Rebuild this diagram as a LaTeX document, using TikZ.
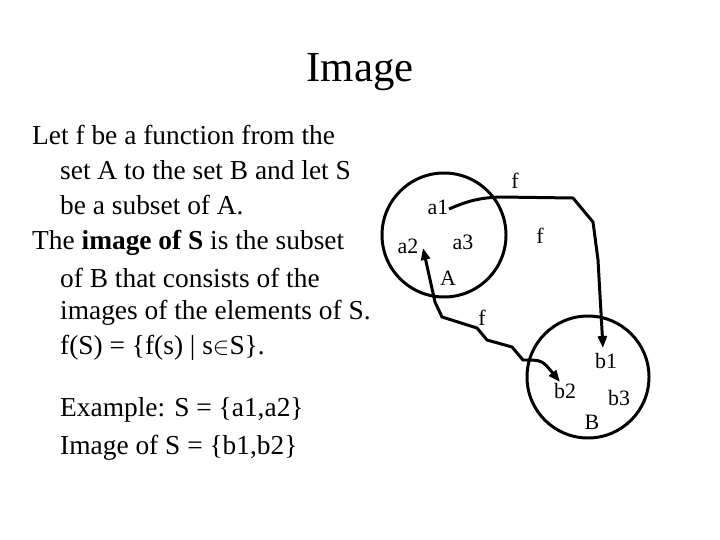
\documentclass[tikz,border=0pt]{standalone}
\usepackage{fontspec}
\setmainfont{Liberation Serif}
\usetikzlibrary{arrows.meta}
\begin{document}
\begin{tikzpicture}[x=1bp,y=-1bp,
  txt/.style={anchor=west,inner sep=0pt,font=\fontsize{27.5}{30}\selectfont},
  lbl/.style={inner sep=0pt,font=\fontsize{22}{26}\selectfont},
  setc/.style={draw,line width=3pt},
  arr/.style={line width=3pt,-{Triangle[length=12pt,width=9pt]}}]
\useasboundingbox (0,0) rectangle (720,540);
\node[inner sep=0pt,font=\fontsize{43}{46}\selectfont] (title) at (360,72) {Image};
\node[txt] (l1) at (32,135) {Let f be a function from the};
\node[txt] (l2) at (60,170) {set A to the set B and let S};
\node[txt] (l3) at (60,205) {be a subset of A.};
\node[txt] (l4) at (32,243) {The \textbf{image of S} is the subset};
\node[txt] (l5) at (60,278) {of B that consists of the};
\node[txt] (l6) at (60,313) {images of the elements of S.};
\node[txt] (l7) at (60,348) {f(S) = \{f(s) | s$\in$S\}.};
\node[txt] (l8) at (60,410) {Example: S = \{a1,a2\}};
\node[txt] (l9) at (60,448) {Image of S = \{b1,b2\}};
\draw[setc] (444,235) circle (62);
\draw[setc] (588,377) circle (61);
\node[lbl] (a1) at (438,207) {a1};
\node[lbl] (a2) at (408,246) {a2};
\node[lbl] (a3) at (463,242) {a3};
\node[lbl] (A) at (448,278) {A};
\node[lbl] (b1) at (606,361) {b1};
\node[lbl] (b2) at (565,391) {b2};
\node[lbl] (b3) at (619,398) {b3};
\node[lbl] (B) at (592,422) {B};
\node[lbl] (f1) at (515,181) {f};
\node[lbl] (f2) at (540,236) {f};
\node[lbl] (f3) at (482,318) {f};
\coordinate (p1) at (449,209);
\coordinate (q1) at (603,348);
\draw[arr] (p1) .. controls (470,200) and (480,198) .. (500,197) -- (573,198) -- (593,222) -- (598,260) -- (q1);
\coordinate (p2) at (560,382);
\coordinate (q2) at (423,248);
\draw[arr,{Triangle[length=12pt,width=9pt]}-{Triangle[length=12pt,width=9pt]}] (q2) -- (435,302) -- (442,317) -- (477,328) -- (487,340) -- (512,347) -- (523,360) .. controls (542,360) .. (p2);
\end{tikzpicture}
\end{document}
